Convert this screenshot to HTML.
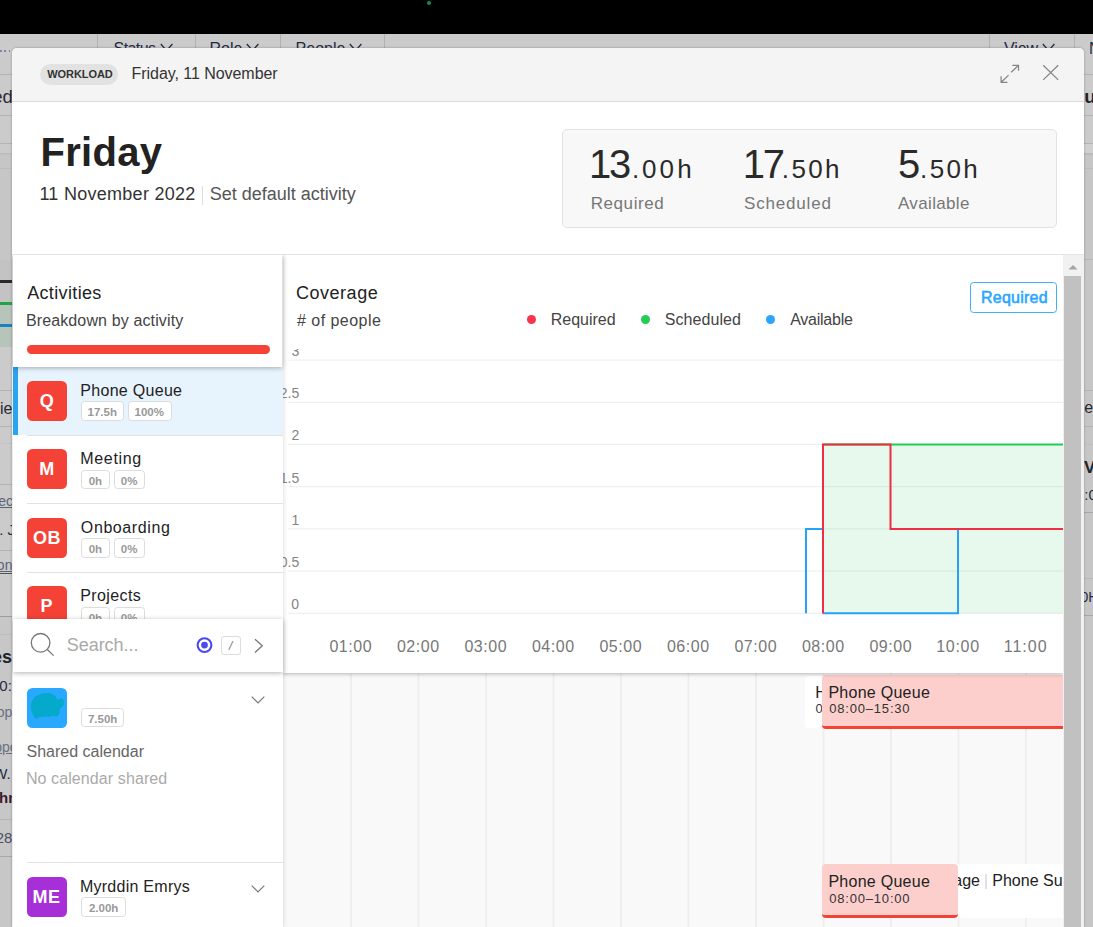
<!DOCTYPE html>
<html><head><meta charset="utf-8"><title>Workload</title>
<style>
html,body{margin:0;padding:0;overflow:hidden;}
.root{position:absolute;left:0;top:0;width:1093px;height:927px;overflow:hidden;background:#cbcbcb;}
body{width:1093px;height:927px;overflow:hidden;background:#cbcbcb;font-family:"Liberation Sans",sans-serif;position:relative;}
.t{position:absolute;white-space:nowrap;display:block;}
.b{position:absolute;box-sizing:border-box;}
svg{position:absolute;overflow:visible;}
.clip{position:absolute;overflow:hidden;}
</style></head><body><div class="root">

<div class="b " style="left:0px;top:0px;width:1093px;height:34px;background:#000;"></div>
<div class="b " style="left:427px;top:1px;width:4px;height:4px;background:#0a8f5a;border-radius:2px;"></div>
<div class="b " style="left:97px;top:34px;width:1px;height:22px;background:#b2b2b2;"></div>
<div class="b " style="left:195px;top:34px;width:1px;height:22px;background:#b2b2b2;"></div>
<div class="b " style="left:280px;top:34px;width:1px;height:22px;background:#b2b2b2;"></div>
<div class="b " style="left:384px;top:34px;width:1px;height:22px;background:#b2b2b2;"></div>
<div class="b " style="left:989px;top:34px;width:1px;height:22px;background:#b2b2b2;"></div>
<div class="b " style="left:1074px;top:34px;width:1px;height:22px;background:#b2b2b2;"></div>
<span class="t " style="left:113.56px;top:40px;font-size:16px;line-height:17px;color:#1f2a44;letter-spacing:-0.570px;">Status</span>
<svg style="left:160.2px;top:42.6px;" width="14" height="9" viewBox="0 0 14 9"><path d="M0.8 1 L6.6 7.6 L12.4 1" fill="none" stroke="#1f2a44" stroke-width="1.3"/></svg>
<span class="t " style="left:209.59px;top:40px;font-size:16px;line-height:17px;color:#1f2a44;letter-spacing:-0.032px;">Role</span>
<svg style="left:245.6px;top:42.6px;" width="14" height="9" viewBox="0 0 14 9"><path d="M0.8 1 L6.6 7.6 L12.4 1" fill="none" stroke="#1f2a44" stroke-width="1.3"/></svg>
<span class="t " style="left:295.49px;top:40px;font-size:16px;line-height:17px;color:#1f2a44;letter-spacing:0.038px;">People</span>
<svg style="left:349px;top:42.6px;" width="14" height="9" viewBox="0 0 14 9"><path d="M0.8 1 L6.6 7.6 L12.4 1" fill="none" stroke="#1f2a44" stroke-width="1.3"/></svg>
<span class="t " style="left:1004.02px;top:40px;font-size:16px;line-height:17px;color:#1f2a44;letter-spacing:-0.112px;">View</span>
<svg style="left:1041.5px;top:42.6px;" width="14" height="9" viewBox="0 0 14 9"><path d="M0.8 1 L6.6 7.6 L12.4 1" fill="none" stroke="#1f2a44" stroke-width="1.3"/></svg>
<span class="t " style="left:1088.89px;top:40px;font-size:16px;line-height:17px;color:#1f2a44;">N</span>
<div class="clip" style="left:0;top:34px;width:14px;height:893px;"><div style="position:absolute;left:0;top:-34px;width:14px;">
<div class="b " style="left:0.3px;top:50.4px;width:1.4px;height:1.3999999999999986px;background:#7a88a2;"></div>
<div class="b " style="left:4.4px;top:50.4px;width:1.4000000000000004px;height:1.3999999999999986px;background:#7a88a2;"></div>
<div class="b " style="left:8.6px;top:50.4px;width:1.4000000000000004px;height:1.3999999999999986px;background:#7a88a2;"></div>
<div class="b " style="left:0px;top:74px;width:14px;height:1px;background:#b4b4b4;"></div>
<span class="t " style="left:-7.69px;top:86px;font-size:18.5px;line-height:21px;color:#2a2a33;">ed</span>
<div class="b " style="left:0px;top:115px;width:14px;height:1px;background:#b4b4b4;"></div>
<div class="b " style="left:0px;top:143px;width:14px;height:1px;background:#b4b4b4;"></div>
<div class="b " style="left:0px;top:153px;width:14px;height:107px;background:linear-gradient(#b9b9b9,#c6c6c6 3px,#c6c6c6);"></div>
<div class="b " style="left:0px;top:168px;width:14px;height:1px;background:#bcbcbc;"></div>
<div class="b " style="left:0px;top:260px;width:14px;height:87px;background:#c3c3c3;"></div>
<div class="b " style="left:0px;top:280px;width:14px;height:3px;background:#2b2b2b;"></div>
<div class="b " style="left:0px;top:305px;width:14px;height:42px;background:#b7c4ba;"></div>
<div class="b " style="left:0px;top:302px;width:14px;height:3px;background:#1fa546;"></div>
<div class="b " style="left:0px;top:323.5px;width:14px;height:3.0px;background:#1e82c2;"></div>
<div class="b " style="left:0px;top:390px;width:14px;height:1px;background:#b4b4b4;"></div>
<span class="t " style="left:-0.04px;top:400px;font-size:16px;line-height:17px;color:#2a2a33;">ie</span>
<div class="b " style="left:0px;top:426px;width:14px;height:1px;background:#b4b4b4;"></div>
<div class="b " style="left:0px;top:443px;width:14px;height:1px;background:#c2c2c2;"></div>
<div class="b " style="left:0px;top:484px;width:14px;height:1px;background:#b4b4b4;"></div>
<span class="t " style="left:-6.48px;top:493px;font-size:14px;line-height:16px;color:#5a6378;text-decoration:underline;">rec</span>
<span class="t " style="left:-9.07px;top:521px;font-size:15px;line-height:17px;color:#1f2a44;">0. J</span>
<div class="b " style="left:0px;top:550px;width:14px;height:1px;background:#b4b4b4;"></div>
<span class="t " style="left:-6.27px;top:557px;font-size:14px;line-height:16px;color:#5a6378;text-decoration:underline;">ion</span>
<div class="b " style="left:0px;top:573px;width:14px;height:1px;background:#555;"></div>
<div class="b " style="left:0px;top:617px;width:14px;height:310px;background:#c7c7c7;"></div>
<div class="b " style="left:0px;top:616px;width:14px;height:1px;background:#9c9c9c;"></div>
<div class="b " style="left:0px;top:634px;width:14px;height:1px;background:#bdbdbd;"></div>
<span class="t " style="left:-13.08px;top:647px;font-size:18px;line-height:20px;color:#22222a;font-weight:bold;">ies</span>
<span class="t " style="left:-8.98px;top:677px;font-size:15px;line-height:17px;color:#1f2a44;">00:</span>
<span class="t " style="left:-7.07px;top:704px;font-size:14px;line-height:16px;color:#6a7080;">top</span>
<span class="t " style="left:-13.52px;top:739px;font-size:14px;line-height:16px;color:#6a7080;text-decoration:underline;">oppe</span>
<span class="t " style="left:-6.84px;top:765px;font-size:15px;line-height:17px;color:#1f2a44;">W.</span>
<span class="t " style="left:-10.07px;top:789px;font-size:15px;line-height:17px;color:#3a1a2a;font-weight:bold;">ohn</span>
<div class="b " style="left:0px;top:819px;width:14px;height:1px;background:#b4b4b4;"></div>
<span class="t " style="left:-4.34px;top:829px;font-size:15px;line-height:17px;color:#4a5060;">28</span>
<div class="b " style="left:0px;top:856px;width:14px;height:1px;background:#a8a8a8;"></div>
</div></div>
<div class="clip" style="left:1080px;top:34px;width:13px;height:893px;"><div style="position:absolute;left:-1080px;top:-34px;width:1093px;">
<div class="b " style="left:1080px;top:74px;width:13px;height:1px;background:#b4b4b4;"></div>
<span class="t " style="left:1084.22px;top:86px;font-size:19px;line-height:21px;color:#22222a;font-weight:bold;">ur</span>
<div class="b " style="left:1080px;top:115px;width:13px;height:1px;background:#b4b4b4;"></div>
<div class="b " style="left:1080px;top:143px;width:13px;height:1px;background:#b4b4b4;"></div>
<div class="b " style="left:1080px;top:143.5px;width:13px;height:9.5px;background:#d0d0d0;"></div>
<div class="b " style="left:1080px;top:153px;width:13px;height:774px;background:linear-gradient(#b5b5b5,#c6c6c6 3px,#c6c6c6);"></div>
<div class="b " style="left:1080px;top:168px;width:13px;height:1px;background:#bcbcbc;"></div>
<div class="b " style="left:1080px;top:259px;width:13px;height:1px;background:#b8b8b8;"></div>
<div class="b " style="left:1080px;top:390px;width:13px;height:1px;background:#b4b4b4;"></div>
<div class="b " style="left:1080px;top:426px;width:13px;height:1px;background:#b4b4b4;"></div>
<span class="t " style="left:1084.23px;top:399px;font-size:16px;line-height:17px;color:#2a2a33;">e</span>
<div class="b " style="left:1080px;top:444px;width:13px;height:1px;background:#c0c0c0;"></div>
<span class="t " style="left:1083.98px;top:458px;font-size:17px;line-height:19px;color:#22222a;font-weight:bold;">Vo</span>
<span class="t " style="left:1084.23px;top:486px;font-size:15px;line-height:17px;color:#1f2a44;">:0</span>
<div class="b " style="left:1080px;top:512px;width:13px;height:1px;background:#a8a8a8;"></div>
<div class="b " style="left:1080px;top:578px;width:13px;height:1px;background:#b8b8b8;"></div>
<span class="t " style="left:1080.55px;top:589px;font-size:14px;line-height:16px;color:#1f2a44;">0H</span>
<div class="b " style="left:1080px;top:615px;width:13px;height:1px;background:#a8a8a8;"></div>
</div></div>
<div class="clip" style="left:12px;top:48px;width:1071.5px;height:879px;background:#fff;border-radius:5px 5px 0 0;box-shadow:0 0 2.5px rgba(0,0,0,0.3);">
<div style="position:absolute;left:-12px;top:-48px;width:1093px;height:927px;">
<div class="b " style="left:12px;top:48px;width:1072px;height:54px;background:#f4f4f4;border-bottom:1px solid #dcdcdc;"></div>
<div class="b " style="left:40px;top:64px;width:78px;height:21px;background:#e2e2e2;border-radius:11px;"></div>
<span class="t " style="left:47.29px;top:68px;font-size:11px;line-height:12px;color:#333;font-weight:bold;letter-spacing:-0.074px;">WORKLOAD</span>
<span class="t " style="left:131.59px;top:65px;font-size:16px;line-height:17px;color:#333;letter-spacing:-0.052px;">Friday, 11 November</span>
<svg style="left:995px;top:60px;" width="70" height="28" viewBox="995 60 70 28" fill="none" stroke="#858585" stroke-width="1.25"><path d="M1011.2 72.3 L1018.4 65.4 M1012.3 65.4 H1018.5 V70.8"/><path d="M1008.6 75.1 L1001.2 82.3 M1001.1 76.2 V82.4 H1007.4"/><path d="M1043.2 65.2 L1058.2 79.9 M1058.2 65.2 L1043.2 79.9"/></svg>
<span class="t " style="left:40.62px;top:130px;font-size:40px;line-height:44px;color:#222;font-weight:bold;letter-spacing:0.248px;">Friday</span>
<span class="t " style="left:39.43px;top:184px;font-size:18px;line-height:20px;color:#333;letter-spacing:0.274px;">11 November 2022</span>
<div class="b " style="left:201.5px;top:186px;width:1.5px;height:19px;background:#dedede;"></div>
<span class="t " style="left:209.77px;top:184px;font-size:18px;line-height:20px;color:#555;letter-spacing:-0.011px;">Set default activity</span>
<div class="b " style="left:562px;top:129px;width:495px;height:99px;background:#f8f8f8;border:1px solid #e2e2e2;border-radius:5px;"></div>
<span class="t " style="left:589.06px;top:142px;font-size:40px;line-height:44px;color:#2a2a2a;letter-spacing:-2.180px;">13</span>
<span class="t " style="left:632.03px;top:154px;font-size:26px;line-height:30px;color:#2a2a2a;">.</span>
<span class="t " style="left:642.09px;top:154px;font-size:26px;line-height:30px;color:#2a2a2a;letter-spacing:3.068px;">00h</span>
<span class="t " style="left:590.71px;top:194px;font-size:17px;line-height:19px;color:#777;letter-spacing:0.571px;">Required</span>
<span class="t " style="left:742.76px;top:142px;font-size:40px;line-height:44px;color:#2a2a2a;letter-spacing:-2.240px;">17</span>
<span class="t " style="left:781.63px;top:154px;font-size:26px;line-height:30px;color:#2a2a2a;">.</span>
<span class="t " style="left:791.56px;top:154px;font-size:26px;line-height:30px;color:#2a2a2a;letter-spacing:2.281px;">50h</span>
<span class="t " style="left:744.02px;top:194px;font-size:17px;line-height:19px;color:#777;letter-spacing:0.816px;">Scheduled</span>
<span class="t " style="left:898.00px;top:142px;font-size:40px;line-height:44px;color:#2a2a2a;">5</span>
<span class="t " style="left:920.03px;top:154px;font-size:26px;line-height:30px;color:#2a2a2a;">.</span>
<span class="t " style="left:929.86px;top:154px;font-size:26px;line-height:30px;color:#2a2a2a;letter-spacing:2.231px;">50h</span>
<span class="t " style="left:897.97px;top:194px;font-size:17px;line-height:19px;color:#777;letter-spacing:0.350px;">Available</span>
<div class="b " style="left:283px;top:255px;width:780px;height:672px;background:#f9f9f9;"></div>
<svg style="left:283px;top:673px;" width="780" height="254" viewBox="283 673 780 254"><g fill="#eeeeee"><rect x="350.05" y="673" width="1.9" height="254"/><rect x="417.55" y="673" width="1.9" height="254"/><rect x="485.05" y="673" width="1.9" height="254"/><rect x="552.55" y="673" width="1.9" height="254"/><rect x="620.05" y="673" width="1.9" height="254"/><rect x="687.55" y="673" width="1.9" height="254"/><rect x="755.05" y="673" width="1.9" height="254"/><rect x="822.55" y="673" width="1.9" height="254"/><rect x="890.05" y="673" width="1.9" height="254"/><rect x="957.55" y="673" width="1.9" height="254"/><rect x="1025.05" y="673" width="1.9" height="254"/></g></svg>
<div class="b " style="left:805px;top:676px;width:25px;height:52px;background:#fff;border-radius:4px;"></div>
<div class="clip" style="left:805px;top:676px;width:18px;height:52px;">
<span class="t " style="left:10.29px;top:8px;font-size:16px;line-height:17px;color:#222;">H</span>
<span class="t " style="left:10.59px;top:25px;font-size:13px;line-height:15px;color:#3a3a3a;">0</span>
</div>
<div class="b " style="left:822px;top:675px;width:241px;height:54px;background:#fccfcc;border-bottom:3px solid #f44336;border-radius:4px 0 0 4px;"></div>
<span class="t " style="left:828.39px;top:684px;font-size:16px;line-height:17px;color:#222;letter-spacing:0.266px;">Phone Queue</span>
<span class="t " style="left:829.19px;top:701px;font-size:13px;line-height:15px;color:#333;letter-spacing:0.812px;">08:00–15:30</span>
<div class="b " style="left:950px;top:864px;width:113px;height:53.700000000000045px;background:#fff;"></div>
<div class="clip" style="left:958px;top:864px;width:105px;height:53px;">
<span class="t " style="left:-4.78px;top:8px;font-size:16px;line-height:17px;color:#222;">age</span>
<div class="b " style="left:27.2px;top:10px;width:1.6000000000000014px;height:15px;background:#e0e0e6;"></div>
<span class="t " style="left:34.29px;top:8px;font-size:16px;line-height:17px;color:#222;">Phone Support</span>
</div>
<div class="b " style="left:822px;top:864px;width:135.5px;height:53.700000000000045px;background:#fccfcc;border-bottom:3px solid #f44336;border-radius:4px;"></div>
<span class="t " style="left:828.39px;top:873px;font-size:16px;line-height:17px;color:#222;letter-spacing:0.266px;">Phone Queue</span>
<span class="t " style="left:829.19px;top:891px;font-size:13px;line-height:15px;color:#333;letter-spacing:0.812px;">08:00–10:00</span>
<div class="b " style="left:283px;top:255px;width:780px;height:418px;background:#fff;box-shadow:0 1px 4px rgba(0,0,0,0.28);"></div>
<span class="t " style="left:295.98px;top:283px;font-size:18px;line-height:20px;color:#222;letter-spacing:0.523px;">Coverage</span>
<span class="t " style="left:297.04px;top:312px;font-size:16px;line-height:17px;color:#444;letter-spacing:0.458px;"># of people</span>
<div class="b " style="left:527.2px;top:314.8px;width:9.0px;height:9.0px;background:#f7354c;border-radius:50%;"></div>
<span class="t " style="left:550.79px;top:311px;font-size:16px;line-height:17px;color:#444;letter-spacing:-0.013px;">Required</span>
<div class="b " style="left:641.2px;top:314.8px;width:9.0px;height:9.0px;background:#22cc55;border-radius:50%;"></div>
<span class="t " style="left:664.66px;top:311px;font-size:16px;line-height:17px;color:#444;letter-spacing:0.081px;">Scheduled</span>
<div class="b " style="left:765.9px;top:314.8px;width:9.0px;height:9.0px;background:#2aa5ff;border-radius:50%;"></div>
<span class="t " style="left:790.17px;top:311px;font-size:16px;line-height:17px;color:#444;letter-spacing:-0.238px;">Available</span>
<div class="b " style="left:970px;top:282px;width:87px;height:31px;border:1px solid #3eaeff;border-radius:3.5px;background:#fff;"></div>
<span class="t " style="left:980.99px;top:289px;font-size:16px;line-height:17px;color:#2aa5ff;letter-spacing:0.230px;-webkit-text-stroke:0.55px #2aa5ff;">Required</span>
<svg style="left:284px;top:255px;" width="779" height="418" viewBox="284 255 779 418"><g stroke="#ececec" stroke-width="1" fill="none"><path d="M288.5 360.10 H1063"/><path d="M288.5 402.30 H1063"/><path d="M288.5 444.50 H1063"/><path d="M288.5 486.70 H1063"/><path d="M288.5 528.90 H1063"/><path d="M288.5 571.10 H1063"/><path d="M288.5 613.30 H1063"/></g></svg>
<div class="clip" style="left:283px;top:349px;width:780px;height:290px;">
<span class="t " style="left:8.43px;top:-6px;font-size:14px;line-height:16px;color:#858585;">3</span>
<span class="t " style="left:-3.27px;top:36px;font-size:14px;line-height:16px;color:#858585;">2.5</span>
<span class="t " style="left:8.52px;top:78px;font-size:14px;line-height:16px;color:#858585;">2</span>
<span class="t " style="left:-3.27px;top:121px;font-size:14px;line-height:16px;color:#858585;">1.5</span>
<span class="t " style="left:8.50px;top:163px;font-size:14px;line-height:16px;color:#858585;">1</span>
<span class="t " style="left:-3.27px;top:205px;font-size:14px;line-height:16px;color:#858585;">0.5</span>
<span class="t " style="left:8.36px;top:247px;font-size:14px;line-height:16px;color:#858585;">0</span>
</div>
<svg style="left:284px;top:255px;" width="779" height="418" viewBox="284 255 779 418"><rect x="823" y="444.5" width="240" height="168.8" fill="#22cc55" fill-opacity="0.11"/><path d="M806 613.3 V528.9 H823 M823 613.2 H958 V528.9 H1063" fill="none" stroke="#25a3f8" stroke-width="2"/><path d="M823 444.5 H1063" fill="none" stroke="#22cc55" stroke-width="2"/><path d="M823 613.5 V444.5 H890.5 V528.9 H1063" fill="none" stroke="#f02d45" stroke-width="2"/></svg>
<span class="t " style="left:329.38px;top:638px;font-size:16px;line-height:17px;color:#777;letter-spacing:0.554px;">01:00</span>
<span class="t " style="left:396.88px;top:638px;font-size:16px;line-height:17px;color:#777;letter-spacing:0.554px;">02:00</span>
<span class="t " style="left:464.38px;top:638px;font-size:16px;line-height:17px;color:#777;letter-spacing:0.554px;">03:00</span>
<span class="t " style="left:531.88px;top:638px;font-size:16px;line-height:17px;color:#777;letter-spacing:0.554px;">04:00</span>
<span class="t " style="left:599.38px;top:638px;font-size:16px;line-height:17px;color:#777;letter-spacing:0.554px;">05:00</span>
<span class="t " style="left:666.88px;top:638px;font-size:16px;line-height:17px;color:#777;letter-spacing:0.554px;">06:00</span>
<span class="t " style="left:734.38px;top:638px;font-size:16px;line-height:17px;color:#777;letter-spacing:0.554px;">07:00</span>
<span class="t " style="left:801.88px;top:638px;font-size:16px;line-height:17px;color:#777;letter-spacing:0.554px;">08:00</span>
<span class="t " style="left:869.38px;top:638px;font-size:16px;line-height:17px;color:#777;letter-spacing:0.554px;">09:00</span>
<span class="t " style="left:936.28px;top:638px;font-size:16px;line-height:17px;color:#777;letter-spacing:0.702px;">10:00</span>
<span class="t " style="left:1003.78px;top:638px;font-size:16px;line-height:17px;color:#777;letter-spacing:0.998px;">11:00</span>
<div class="b " style="left:1063px;top:255px;width:21px;height:672px;background:#f1f1f1;"></div>
<div class="b " style="left:1064.2px;top:276px;width:16.59999999999991px;height:651px;background:#c1c1c1;"></div>
<svg style="left:1066.8px;top:262.5px;" width="12" height="8" viewBox="0 0 12 8"><path d="M1.5 6.5 L6 2 L10.5 6.5 Z" fill="#a3a3a3"/></svg>
<div class="b " style="left:13px;top:255px;width:270px;height:672px;background:#fff;box-shadow:0 0 5px rgba(0,0,0,0.17);"></div>
<div class="b " style="left:26.6px;top:688px;width:39.99999999999999px;height:40px;background:#29a8ff;border-radius:5.5px;"></div>
<svg style="left:26.6px;top:687.8px;" width="40" height="40" viewBox="0 0 40 40"><path d="M4 17 C4.5 12 8 8 12 6.6 C15 5 23 4 27 7.2 C29 8.5 30 10.5 30.5 12.3 C32 10 35.5 10 36.8 12.5 C38 15 36.8 19 33 20 C32.8 23.5 32.5 26.5 31 28 C28.5 29 26 27.8 24 28.2 C22 29.3 19 28.3 17 28.6 C15 29.3 13 28.8 12 29.2 C10.5 31 8 30.8 7.2 29 C6 28 6.2 26.5 5.5 25.3 C4 23 3.8 20 4 17 Z" fill="#05a9cc"/></svg>
<div class="b " style="left:81px;top:708.3px;width:43px;height:19.200000000000045px;background:#fff;border:1px solid #dcdcdc;border-radius:3.5px;"></div>
<span class="t " style="left:87.91px;top:713px;font-size:11.5px;line-height:12px;color:#999;font-weight:bold;">7.50h</span>
<svg style="left:251px;top:695.5px;" width="14" height="8" viewBox="0 0 14 8"><path d="M0.7 0.6 L7 7 L13.3 0.6" fill="none" stroke="#777" stroke-width="1.2"/></svg>
<span class="t " style="left:26.46px;top:743px;font-size:16px;line-height:17px;color:#666;letter-spacing:0.007px;">Shared calendar</span>
<span class="t " style="left:25.89px;top:770px;font-size:16px;line-height:17px;color:#aaa;letter-spacing:0.100px;">No calendar shared</span>
<div class="b " style="left:27px;top:862px;width:256px;height:1px;background:#e2e2e2;"></div>
<div class="b " style="left:26.6px;top:877px;width:39.99999999999999px;height:40px;background:#a62fd8;border-radius:5.5px;"></div>
<span class="t " style="left:32.59px;top:887px;font-size:18px;line-height:20px;color:#fff;font-weight:bold;letter-spacing:0.508px;">ME</span>
<span class="t " style="left:79.89px;top:878px;font-size:16px;line-height:17px;color:#222;letter-spacing:0.267px;">Myrddin Emrys</span>
<div class="b " style="left:81px;top:897px;width:45px;height:19.600000000000023px;background:#fff;border:1px solid #dcdcdc;border-radius:3.5px;"></div>
<span class="t " style="left:88.95px;top:902px;font-size:11.5px;line-height:12px;color:#999;font-weight:bold;">2.00h</span>
<svg style="left:250.7px;top:884.5px;" width="14" height="8" viewBox="0 0 14 8"><path d="M0.7 0.6 L7 7 L13.3 0.6" fill="none" stroke="#777" stroke-width="1.2"/></svg>
<div class="clip" style="left:13px;top:367px;width:270px;height:252px;"><div style="position:absolute;left:-13px;top:-367px;">
<div class="b " style="left:13px;top:367px;width:270px;height:68px;background:#e7f3fd;border-left:5px solid #2ba3f0;"></div>
<div class="b " style="left:27px;top:435px;width:256px;height:1px;background:#e2e2e2;"></div>
<div class="b " style="left:26.8px;top:380.8px;width:40.0px;height:40.0px;background:#f44336;border-radius:5.5px;"></div>
<span class="t " style="left:39.81px;top:391px;font-size:18px;line-height:20px;color:#fff;font-weight:bold;">Q</span>
<span class="t " style="left:80.29px;top:382px;font-size:16px;line-height:17px;color:#222;letter-spacing:0.296px;">Phone Queue</span>
<div class="b " style="left:81px;top:401.1px;width:42.5px;height:19.69999999999999px;background:#fff;border:1px solid #dcdcdc;border-radius:3.5px;"></div>
<span class="t " style="left:87.54px;top:406px;font-size:11.5px;line-height:12px;color:#999;font-weight:bold;">17.5h</span>
<div class="b " style="left:127.5px;top:401.1px;width:44.0px;height:19.69999999999999px;background:#fff;border:1px solid #dcdcdc;border-radius:3.5px;"></div>
<span class="t " style="left:134.58px;top:406px;font-size:11.5px;line-height:12px;color:#999;font-weight:bold;">100%</span>
<div class="b " style="left:27px;top:503px;width:256px;height:1px;background:#e2e2e2;"></div>
<div class="b " style="left:26.8px;top:449.3px;width:40.0px;height:40.0px;background:#f44336;border-radius:5.5px;"></div>
<span class="t " style="left:39.30px;top:459px;font-size:18px;line-height:20px;color:#fff;font-weight:bold;">M</span>
<span class="t " style="left:80.29px;top:450px;font-size:16px;line-height:17px;color:#222;letter-spacing:0.671px;">Meeting</span>
<div class="b " style="left:81px;top:469.6px;width:28.5px;height:19.69999999999999px;background:#fff;border:1px solid #dcdcdc;border-radius:3.5px;"></div>
<span class="t " style="left:88.67px;top:475px;font-size:11.5px;line-height:12px;color:#999;font-weight:bold;">0h</span>
<div class="b " style="left:114px;top:469.6px;width:30.5px;height:19.69999999999999px;background:#fff;border:1px solid #dcdcdc;border-radius:3.5px;"></div>
<span class="t " style="left:120.86px;top:475px;font-size:11.5px;line-height:12px;color:#999;font-weight:bold;">0%</span>
<div class="b " style="left:27px;top:572px;width:256px;height:1px;background:#e2e2e2;"></div>
<div class="b " style="left:26.8px;top:517.8px;width:40.0px;height:40.0px;background:#f44336;border-radius:5.5px;"></div>
<span class="t " style="left:33.06px;top:528px;font-size:18px;line-height:20px;color:#fff;font-weight:bold;letter-spacing:0.548px;">OB</span>
<span class="t " style="left:80.85px;top:519px;font-size:16px;line-height:17px;color:#222;letter-spacing:0.596px;">Onboarding</span>
<div class="b " style="left:81px;top:538.1px;width:28.5px;height:19.699999999999932px;background:#fff;border:1px solid #dcdcdc;border-radius:3.5px;"></div>
<span class="t " style="left:88.67px;top:543px;font-size:11.5px;line-height:12px;color:#999;font-weight:bold;">0h</span>
<div class="b " style="left:114px;top:538.1px;width:30.5px;height:19.699999999999932px;background:#fff;border:1px solid #dcdcdc;border-radius:3.5px;"></div>
<span class="t " style="left:120.86px;top:543px;font-size:11.5px;line-height:12px;color:#999;font-weight:bold;">0%</span>
<div class="b " style="left:27px;top:640px;width:256px;height:1px;background:#e2e2e2;"></div>
<div class="b " style="left:26.8px;top:586.3px;width:40.0px;height:40.0px;background:#f44336;border-radius:5.5px;"></div>
<span class="t " style="left:40.50px;top:596px;font-size:18px;line-height:20px;color:#fff;font-weight:bold;">P</span>
<span class="t " style="left:80.29px;top:587px;font-size:16px;line-height:17px;color:#222;letter-spacing:0.385px;">Projects</span>
<div class="b " style="left:81px;top:606.6px;width:28.5px;height:19.699999999999932px;background:#fff;border:1px solid #dcdcdc;border-radius:3.5px;"></div>
<span class="t " style="left:88.67px;top:612px;font-size:11.5px;line-height:12px;color:#999;font-weight:bold;">0h</span>
<div class="b " style="left:114px;top:606.6px;width:30.5px;height:19.699999999999932px;background:#fff;border:1px solid #dcdcdc;border-radius:3.5px;"></div>
<span class="t " style="left:120.86px;top:612px;font-size:11.5px;line-height:12px;color:#999;font-weight:bold;">0%</span>
</div></div>
<div class="b " style="left:13px;top:255px;width:269.4px;height:112px;background:#fff;box-shadow:0 1px 5px rgba(0,0,0,0.3);"></div>
<span class="t " style="left:27.16px;top:283px;font-size:18px;line-height:20px;color:#222;letter-spacing:0.353px;">Activities</span>
<span class="t " style="left:25.89px;top:312px;font-size:16px;line-height:17px;color:#444;letter-spacing:0.130px;">Breakdown by activity</span>
<div class="b " style="left:26.5px;top:345px;width:243.10000000000002px;height:9px;background:#f44336;border-radius:5px;"></div>
<div class="b " style="left:13px;top:618.5px;width:270px;height:53.5px;background:#fff;box-shadow:0 1px 5px rgba(0,0,0,0.3);"></div>
<svg style="left:29px;top:631px;" width="28" height="28" viewBox="29 631 28 28"><circle cx="40.6" cy="642.8" r="9.3" fill="none" stroke="#777" stroke-width="1.3"/><path d="M47.3 649.5 L53.6 655.6" stroke="#777" stroke-width="1.3" fill="none"/></svg>
<span class="t " style="left:66.77px;top:635px;font-size:18px;line-height:20px;color:#aaa;letter-spacing:-0.046px;">Search...</span>
<svg style="left:196px;top:637px;" width="17" height="17" viewBox="0 0 17 17"><circle cx="8.5" cy="8.1" r="6.9" fill="none" stroke="#4a4af0" stroke-width="2.1"/><circle cx="8.5" cy="8.1" r="3.4" fill="#4a4af0"/></svg>
<div class="b " style="left:220.5px;top:636px;width:20.0px;height:19px;background:#fff;border:1px solid #dcdcdc;border-radius:3px;"></div>
<span class="t " style="left:228.95px;top:639px;font-size:12px;line-height:14px;color:#777;font-style:italic;">/</span>
<svg style="left:254px;top:638px;" width="10" height="16" viewBox="0 0 10 16"><path d="M1 1.2 L8.3 7.8 L1 14.4" fill="none" stroke="#777" stroke-width="1.3"/></svg>
<div class="b " style="left:12px;top:244px;width:1072px;height:10px;background:#fff;"></div>
<div class="b " style="left:12px;top:254px;width:1072px;height:1px;background:#e4e4e4;"></div>
</div></div>
</div></body></html>
